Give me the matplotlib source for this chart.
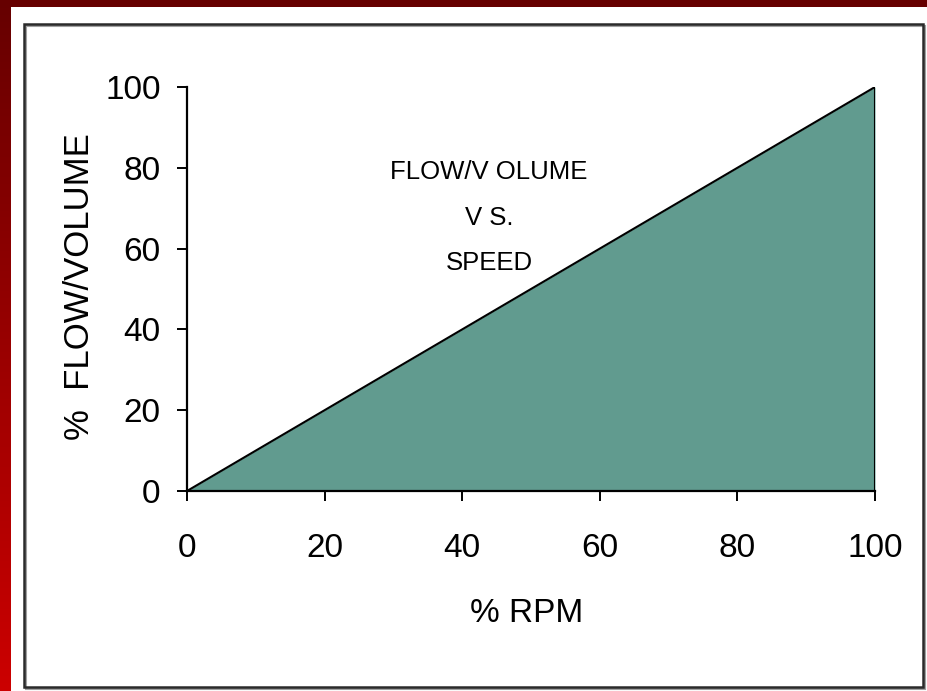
import numpy as np
import matplotlib
matplotlib.use("Agg")
import matplotlib.pyplot as plt
from matplotlib.patches import Rectangle

plt.rcParams['font.family'] = ['Liberation Sans Narrow', 'Liberation Sans', 'DejaVu Sans']

# data
rpm_pct = [0, 20, 40, 60, 80, 100]
flow_pct = [0, 20, 40, 60, 80, 100]
x_ticks = [0, 20, 40, 60, 80, 100]
y_ticks = [0, 20, 40, 60, 80, 100]
note_lines = ["FLOW/V OLUME", "V S.", "SPEED"]

W, H = 928, 691
fig = plt.figure(figsize=(W / 100, H / 100), dpi=100)

# slide background: red gradient strip on the left, dark red bar on top
bg = fig.add_axes([0, 0, 1, 1])
grad = np.linspace(0, 1, 256).reshape(-1, 1)
red_cmap = matplotlib.colors.LinearSegmentedColormap.from_list("r", ["#660000", "#cc0000"])
bg.imshow(grad, aspect='auto', cmap=red_cmap, extent=[0, 1, 0, 1], origin='upper')
bg.set_xlim(0, 1)
bg.set_ylim(0, 1)
bg.axis('off')

def px_rect(x0, y0, x1, y1, **kw):
    # pixel box (top-left origin) -> figure fraction
    return Rectangle((x0 / W, 1 - y1 / H), (x1 - x0) / W, (y1 - y0) / H,
                     transform=fig.transFigure, **kw)

fig.add_artist(px_rect(11, 7, W, H, facecolor='white', edgecolor='none'))
fig.add_artist(px_rect(26, 26, 925, 689, facecolor='none', edgecolor='#a0a0a0', linewidth=1.5))
fig.add_artist(px_rect(24.5, 24, 923.5, 687, facecolor='none', edgecolor='#2a2a2a', linewidth=1.8))

# chart area
ax = fig.add_axes([187 / W, 1 - 491 / H, (875 - 187) / W, (491 - 87) / H])
ax.set_zorder(5)
ax.patch.set_alpha(0)
ax.fill_between(rpm_pct, flow_pct, 0, color='#619b8f', linewidth=0)
ax.plot(rpm_pct, flow_pct, color='black', linewidth=1.5)
ax.plot([rpm_pct[-1], rpm_pct[-1]], [0, flow_pct[-1]], color='black', linewidth=1.5)

ax.set_xlim(0, 100)
ax.set_ylim(0, 100)
ax.set_xticks(x_ticks)
ax.set_yticks(y_ticks)
ax.spines['top'].set_visible(False)
ax.spines['right'].set_visible(False)
for s in ['left', 'bottom']:
    ax.spines[s].set_linewidth(1.6)
    ax.spines[s].set_color('black')
ax.tick_params(axis='both', direction='out', length=7, width=1.4, labelsize=24)
ax.tick_params(axis='x', pad=23)
ax.tick_params(axis='y', pad=12)

ax.set_xlabel("% RPM", fontsize=24, va='center', ha='center')
ax.xaxis.set_label_coords(0.494, -0.304)
ax.set_ylabel("%  FLOW/VOLUME", fontsize=25, va='center', ha='center')
ax.yaxis.set_label_coords(-0.156, 0.505)

for txt, y in zip(note_lines, [79, 67.6, 56.4]):
    ax.text(43.9, y, txt, fontsize=18.5, ha='center', va='center')

fig.savefig("out.png", dpi=100)
